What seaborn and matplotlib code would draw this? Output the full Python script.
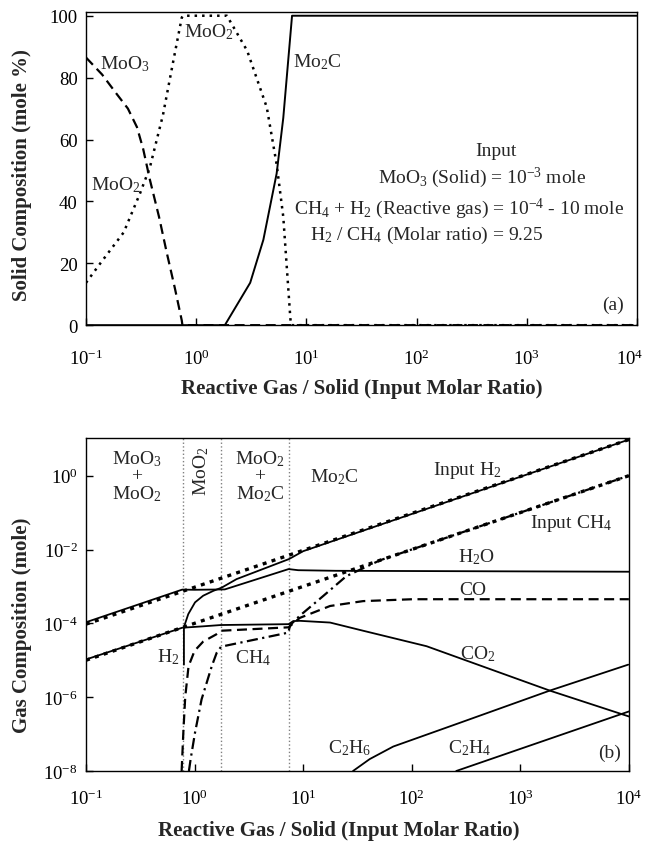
import matplotlib
matplotlib.use("Agg")
import matplotlib.pyplot as plt
import seaborn as sns
from matplotlib.ticker import NullLocator, FixedLocator
from matplotlib.transforms import ScaledTranslation


# -------------------------------
# Data (a) solid composition, mole %
# -------------------------------
moo3_x = [0.1, 0.14, 0.19, 0.24, 0.29, 0.33, 0.38, 0.46, 0.54, 0.64, 0.74, 0.75, 1e4]
moo3_y = [86.5, 81, 74.7, 70, 64, 57, 47, 35, 23.5, 12, 1.5, 0, 0]

moo2_x = [0.1, 0.135, 0.22, 0.31, 0.38, 0.50, 0.62, 0.74, 0.76, 1.9, 2.9, 4.37, 5.37, 6.17, 7.16, 7.3, 1e4]
moo2_y = [13.7, 20, 30, 42.7, 51, 68, 85.4, 99.4, 100, 100, 88.7, 70.4, 52, 35, 2, 0, 0]

mo2c_x = [0.1, 1.82, 3.09, 4.07, 5.37, 6.17, 7.41, 1e4]
mo2c_y = [0, 0, 13.7, 27.6, 49, 67, 100, 100]

# -------------------------------
# Data (b) gas composition, mole
# -------------------------------
input_h2_x = [0.1, 1e4]
input_h2_y = [9.5e-5, 9.5]

input_ch4_x = [0.1, 1e4]
input_ch4_y = [1.0e-5, 1.0]

h2_x = [0.798, 0.798, 0.875, 1.01, 1.20, 1.49, 1.78, 2.44, 7.4, 10, 1e4]
h2_y = [7.6e-6, 7.9e-5, 1.78e-4, 3.7e-4, 5.6e-4, 7.6e-4, 9.3e-4, 1.58e-3, 5.5e-3, 9.0e-3, 9.5]

h2o_x = [0.1, 0.77, 1.0, 1.9, 7.35, 9, 20, 1e4]
h2o_y = [1.07e-4, 8.2e-4, 8.1e-4, 8.3e-4, 2.95e-3, 2.75e-3, 2.65e-3, 2.5e-3]

co2_x = [0.1, 0.77, 1.2, 1.75, 7.35, 8.1, 9.3, 17.7, 35.7, 137, 1875, 1e4]
co2_y = [1.05e-5, 7.6e-5, 8.3e-5, 9.0e-5, 9.5e-5, 1.15e-4, 1.17e-4, 1.05e-4, 6.3e-5, 2.4e-5, 1.5e-6, 3.0e-7]

co_x = [0.76, 0.79, 0.82, 0.88, 1.0, 1.2, 1.58, 1.75, 7.35, 9.3, 17.7, 35.7, 102, 1e4]
co_y = [1e-8, 1.3e-7, 1.0e-6, 6.9e-6, 1.8e-5, 3.2e-5, 5.0e-5, 6.3e-5, 7.8e-5, 1.4e-4, 2.95e-4, 4.0e-4, 4.5e-4, 4.5e-4]

ch4_x = [0.887, 0.92, 1.01, 1.16, 1.44, 1.6, 1.75, 1.9, 7.3, 7.6, 9.3, 15.3, 25, 51, 1e4]
ch4_y = [1e-8, 2.1e-8, 1.1e-7, 8.7e-7, 6.9e-6, 1.6e-5, 2.3e-5, 2.45e-5, 5.6e-5, 9e-5, 1.6e-4, 5.5e-4, 1.9e-3, 5.1e-3, 1.0]

c2h6_x = [28.8, 41, 67.6, 275, 1862, 9860]
c2h6_y = [1e-8, 2.1e-8, 4.6e-8, 2.0e-7, 1.5e-6, 7.6e-6]

c2h4_x = [257, 1e4]
c2h4_y = [1e-8, 4.1e-7]

# phase boundaries (input molar ratio)
boundaries = [0.78, 1.74, 7.4]


# -------------------------------
# Style
# -------------------------------
sns.set_theme(style="ticks")
plt.rcParams["font.family"] = ["Liberation Serif", "DejaVu Serif"]
plt.rcParams["mathtext.fontset"] = "custom"
plt.rcParams["mathtext.rm"] = "Liberation Serif"
plt.rcParams["mathtext.it"] = "Liberation Serif:italic"
plt.rcParams["mathtext.bf"] = "Liberation Serif:bold"
plt.rcParams["axes.edgecolor"] = "black"
plt.rcParams["axes.linewidth"] = 1.0

DOT = (0, (1.2, 1.6))
DASH = (0, (4.5, 2.5))
DASHDOT = (0, (5, 2, 1, 2))

fig = plt.figure(figsize=(6.49, 8.45), dpi=100)
ax1 = fig.add_axes([0.1325, 0.614, 0.849, 0.3706])
ax2 = fig.add_axes([0.1325, 0.0864, 0.8365, 0.3941])


def line(ax, x, y, ls="-", lw=1.3):
    sns.lineplot(x=x, y=y, ax=ax, color="black", linestyle=ls,
                 linewidth=lw, estimator=None, sort=False)


def style_axis(ax, xpad):
    ax.set_xscale("log")
    ax.xaxis.set_minor_locator(NullLocator())
    ax.tick_params(direction="in", length=5, width=1, colors="black",
                   top=False, right=False, labelsize=13.5)
    ax.tick_params(axis="x", pad=xpad)
    ax.tick_params(axis="y", pad=6)
    for s in ax.spines.values():
        s.set_color("black")


# -------------------------------
# (a) Solid composition
# -------------------------------
style_axis(ax1, 17)
line(ax1, moo3_x, moo3_y, ls=DASH, lw=1.6)
line(ax1, moo2_x, moo2_y, ls=(0, (1, 2)), lw=1.8)
line(ax1, mo2c_x, mo2c_y, lw=1.4)

ax1.set_xlim(0.1, 1e4)
ax1.set_ylim(0, 101.2)
ax1.set_yticks([0, 20, 40, 60, 80, 100])
ax1.xaxis.set_major_locator(FixedLocator([0.1, 1, 10, 100, 1000, 10000]))

ax1.set_xlabel("Reactive Gas / Solid (Input Molar Ratio)",
               fontsize=15, fontweight="bold", labelpad=7)
ax1.set_ylabel("Solid Composition (mole %)",
               fontsize=15, fontweight="bold")
ax1.yaxis.set_label_coords(-0.098, 0.484)

fs = 14
ax1.text(0.226, 84.8, "MoO$_3$", fontsize=fs, ha="center", va="center")
ax1.text(1.31, 95, "MoO$_2$", fontsize=fs, ha="center", va="center")
ax1.text(0.187, 45.6, "MoO$_2$", fontsize=fs, ha="center", va="center")
ax1.text(12.5, 85.4, "Mo$_2$C", fontsize=fs, ha="center", va="center")
ax1.text(525, 56.5, "Input", fontsize=fs, ha="center", va="center")
ax1.text(392, 47.9, "MoO$_3$ (Solid) = 10$^{-3}$ mole", fontsize=fs, ha="center", va="center")
ax1.text(243, 37.9, "CH$_4$ + H$_2$ (Reactive gas) = 10$^{-4}$ - 10 mole", fontsize=fs, ha="center", va="center")
ax1.text(124, 29.2, "H$_2$ / CH$_4$ (Molar ratio) = 9.25", fontsize=fs, ha="center", va="center")
ax1.text(6030, 6.7, "(a)", fontsize=fs, ha="center", va="center")


# -------------------------------
# (b) Gas composition
# -------------------------------
style_axis(ax2, 13)
ax2.set_yscale("log")
ax2.yaxis.set_minor_locator(NullLocator())

for b in boundaries:
    ax2.axvline(b, color="0.5", linestyle=":", linewidth=1.0)

line(ax2, input_h2_x, input_h2_y, ls=DOT, lw=2.4)
line(ax2, input_ch4_x, input_ch4_y, ls=DOT, lw=2.4)
line(ax2, h2_x, h2_y)
line(ax2, h2o_x, h2o_y)
line(ax2, co2_x, co2_y)
line(ax2, co_x, co_y, ls=DASH, lw=1.6)
line(ax2, ch4_x, ch4_y, ls=DASHDOT, lw=1.6)
line(ax2, c2h6_x, c2h6_y)
line(ax2, c2h4_x, c2h4_y)

ax2.set_xlim(0.1, 1e4)
ax2.set_ylim(1e-8, 10.5)
ax2.xaxis.set_major_locator(FixedLocator([0.1, 1, 10, 100, 1000, 10000]))
ax2.yaxis.set_major_locator(FixedLocator([1e-8, 1e-6, 1e-4, 1e-2, 1]))

ax2.set_xlabel("Reactive Gas / Solid (Input Molar Ratio)",
               fontsize=15, fontweight="bold")
ax2.xaxis.set_label_coords(0.465, -0.148)
ax2.set_ylabel("Gas Composition (mole)",
               fontsize=15, fontweight="bold")
ax2.yaxis.set_label_coords(-0.1, 0.44)

ax2.text(0.293, 1.0, "MoO$_3$\n+\nMoO$_2$", fontsize=fs, ha="center", va="center", linespacing=0.95)
ax2.text(1.14, 1.37, "MoO$_2$", fontsize=fs, ha="center", va="center", rotation=90)
ax2.text(4.0, 1.0, "MoO$_2$\n+\nMo$_2$C", fontsize=fs, ha="center", va="center", linespacing=0.95)
ax2.text(19.2, 1.0, "Mo$_2$C", fontsize=fs, ha="center", va="center")
ax2.text(322, 1.5, "Input H$_2$", fontsize=fs, ha="center", va="center")
ax2.text(2924, 0.0555, "Input CH$_4$", fontsize=fs, ha="center", va="center")
ax2.text(398, 6.8e-3, "H$_2$O", fontsize=fs, ha="center", va="center")
ax2.text(366, 8.1e-4, "CO", fontsize=fs, ha="center", va="center")
ax2.text(407, 1.6e-5, "CO$_2$", fontsize=fs, ha="center", va="center")
ax2.text(27, 4.4e-8, "C$_2$H$_6$", fontsize=fs, ha="center", va="center")
ax2.text(344, 4.4e-8, "C$_2$H$_4$", fontsize=fs, ha="center", va="center")
ax2.text(6680, 3.2e-8, "(b)", fontsize=fs, ha="center", va="center")
ax2.text(0.573, 1.3e-5, "H$_2$", fontsize=fs, ha="center", va="center")
ax2.text(3.45, 1.2e-5, "CH$_4$", fontsize=fs, ha="center", va="center")

# keep the last tick label of panel (a) inside the figure
last = ax1.xaxis.get_major_ticks()[-1].label1
last.set_transform(last.get_transform()
                   + ScaledTranslation(-5 / 72, 0, fig.dpi_scale_trans))

plt.savefig("out.png", dpi=100)
plt.close()
